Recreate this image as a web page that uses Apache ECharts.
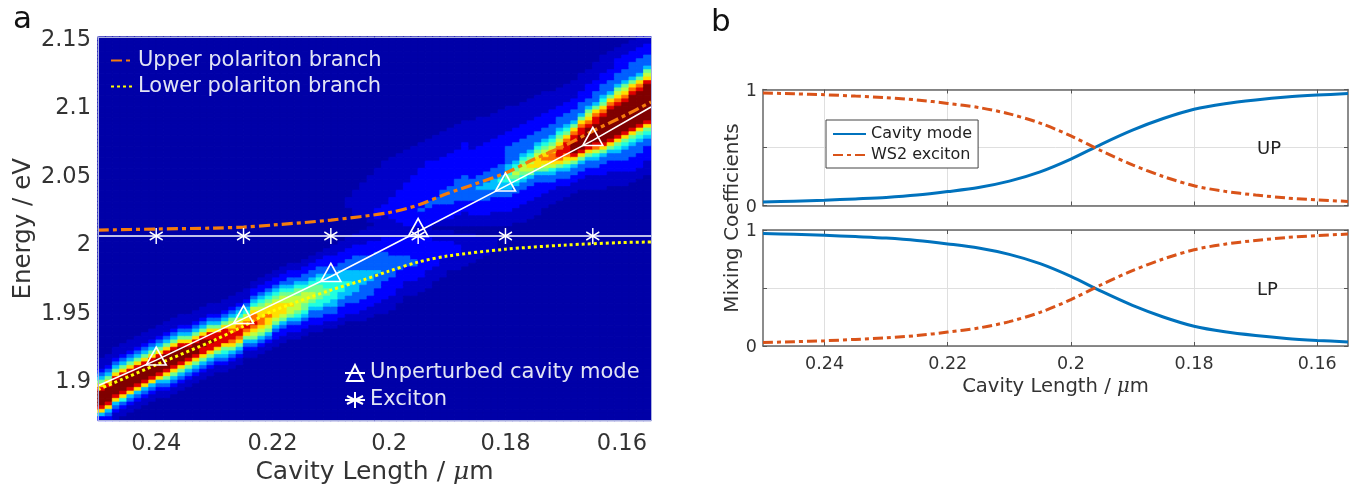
<!DOCTYPE html>
<html>
<head>
<meta charset="utf-8">
<style>html,body{margin:0;padding:0;background:#fff}#c{width:1356px;height:489px}</style>
<script src="https://cdn.jsdelivr.net/npm/echarts@6/dist/echarts.min.js"></script>
</head>
<body>
<div id="c"></div>
<script>
// ---------- panel a: line data ----------
const upperLength = [0.25,0.24,0.23,0.225,0.22,0.21,0.20,0.195,0.19,0.185,0.18,0.175,0.17,0.165,0.16,0.155];
const upperEnergy = [2.00904,2.00978,2.01051,2.01124,2.0127,2.01635,2.02182,2.0273,2.0357,2.04301,2.05067,2.0609,2.07039,2.08137,2.0916,2.10252];
const lowerLength = [0.25,0.24,0.23,0.225,0.22,0.21,0.205,0.20,0.195,0.19,0.18,0.17,0.16,0.155];
const lowerEnergy = [1.8925,1.9107,1.92871,1.93893,1.94988,1.96522,1.97179,1.9791,1.98567,1.99005,1.99505,1.99803,1.99992,2.00031];
const cavityLength = [0.25,0.24,0.225,0.21,0.195,0.18,0.165,0.155];
const cavityEnergy = [1.89533,1.91409,1.94439,1.97518,2.00796,2.04114,2.07451,2.09885];
const excitonLength = [0.25,0.24,0.225,0.21,0.195,0.18,0.165,0.155];
const excitonEnergy = [2.00469,2.00469,2.00469,2.00469,2.00469,2.00469,2.00469,2.00469];
const energyTicks = [1.9,1.95,2,2.05,2.1,2.15];
const lengthTicks = [0.24,0.22,0.2,0.18,0.16];

// ---------- panel a: intensity, one text per column (levels 0..b, top to bottom) ----------
const lowerBandStart = [88,87,85,84,83,82,81,80,79,78,77,76,76,75,74,73,73,72,71,70,69,67,66,65,64,63,62,62,61,60,59,58,57,56,55,54,53,52,52,51,51,51,52,52,52,52,53,53,53,54,54,54,55,55,55];
const lowerBandCols = ["11123468abbbba8421","11123468abbbba84321","11123468abbbba843211","11123468abbbba853211","11123468abbbba843211","11123468abbbba843211","11123468abbbba843211","11123468abbbba843211","11123468abbbba843211","11123468abbbba8643211","11123468abbbba8643211","11123468abbbba8643211","11123468abbba8643211","11123468abbba8643211","11123468abbaa8643211","11123468aabaa8643211","11123468aaaa8643211","11123468aaaa86543211","1112346789aa98643211","1112345789aa98643211","1112345789a98643211","11223457899a987643211","112234567889987643211","112234567889887643211","112234567888876432211","112234567788876432211","112233456778776432211","112234566777765432211","112233456777665432211","112233456677654332211","1122334556666554332211","1122233445566554332211","11122233445555544332211","11122233444555443322211","11122233344454443322211","111222333344444433322211","1111222333344443333222111","1111222233334443333222111","111122233333433332222111","1111222233333333222221111","111122222333333222221111","1111222223333222221111","1112222233322221111","1112222223322221111","111222222222221111","11122222222211111","11122222221111","1112222211111","11122221111","1112221111","111111111","11111111","111111","11111","1111"];
const upperBandFirstCol = 34;
const upperBandStart = [44,42,40,38,36,34,33,32,31,30,29,28,27,26,25,24,23,23,22,22,21,20,19,19,18,17,16,15,15,14,13,12,10,9,7,5,4,3,2,1,0,0];
const upperBandCols = ["111","1111111","111111111","1111111111111","1111111111122211","111111111111222111","1111111111122222211","11111111112222222221","111111111222222222222","1111111122222222222222","11111112222222222232222","111111222222222223322222","1111111222222222233222221","11111112222222223333222211","111111122222222233333222211","1111111222222223333332222111","11111122222222233333332221111","11111111222222223333332222111","111111112222222233343332222111","111111122222222333443332222111","1111111222222223334443322221111","11111112222222233345443322221111","111111122223333344565443322221111","11111122223333345676543322221111","111111222233334567765433222211111","111111222233334567876433222211111","111111222233345678886433222211111","11111122223334567898764332221111","1111122223334567899875433221111","11111222333456789aa986433221111","1111122233345689aaa987543322111","111112223334689aabbba8643322111","111112223334689aabbbba8643322111","111122223346789abbbbba86433221111","111112223334689aabbbbba975433221111","1111122233345689abbbbbbba864332221111","111112223334689abbbbbbbba864332221111","111222233346789abbbbbbbba8654332221111","111222233346789abbbbbbbba86543332221111","11122233334689abbbbbbbbba86543332222111","11122233334689abbbbbbbbba86543332222111","112223334678abbbbbbbbbba86543322221111"];
const jetColors = ['#0000a8','#0000c8','#0000ff','#0060ff','#00c0ff','#20ffe0','#70ff90','#c0ff40','#ffe000','#ff7000','#e00000','#800000'];

// ---------- panel b ----------
const mixLength = [0.25,0.245,0.24,0.235,0.23,0.225,0.22,0.215,0.21,0.205,0.2,0.195,0.19,0.185,0.18,0.175,0.17,0.165,0.16,0.155];
const upCavity = [0.03,0.037,0.045,0.057,0.07,0.09,0.12,0.155,0.21,0.29,0.40,0.53,0.65,0.75,0.83,0.878,0.91,0.935,0.952,0.965];
const upExciton = [0.97,0.963,0.955,0.943,0.93,0.91,0.88,0.845,0.79,0.71,0.60,0.47,0.35,0.25,0.17,0.122,0.09,0.065,0.048,0.035];
const lpCavity = [0.97,0.963,0.955,0.943,0.93,0.91,0.88,0.845,0.79,0.71,0.60,0.47,0.35,0.25,0.17,0.122,0.09,0.065,0.048,0.035];
const lpExciton = [0.03,0.037,0.045,0.057,0.07,0.09,0.12,0.155,0.21,0.29,0.40,0.53,0.65,0.75,0.83,0.878,0.91,0.935,0.952,0.965];

const colCount = 76, rowCount = 105;
const heatXCats = Array.from({length: colCount}, (_, i) => 'c' + i);
const heatYCats = Array.from({length: rowCount}, (_, i) => 'r' + i);
const grid = [];
for (let c = 0; c < colCount; c++) { grid.push(new Array(rowCount).fill(0)); }
function addBand(starts, cols, first) {
  cols.forEach((s, k) => {
    for (let j = 0; j < s.length; j++) {
      const r = starts[k] + j;
      if (r < rowCount) grid[k + first][r] = Math.max(grid[k + first][r], parseInt(s[j], 12));
    }
  });
}
addBand(lowerBandStart, lowerBandCols, 0);
addBand(upperBandStart, upperBandCols, upperBandFirstCol);
const heatData = [];
for (let c = 0; c < colCount; c++) for (let r = 0; r < rowCount; r++) {
  const v = grid[c][r];
  heatData.push({value: [c, r, v], itemStyle: {borderColor: jetColors[v], borderWidth: 0.7}});
}

const zip = (a, b) => a.map((v, i) => [v, b[i]]);
const endsNoSymbol = (a, b) => a.map((v, i) => (i === 0 || i === a.length - 1) ? {value: [v, b[i]], symbol: 'none'} : {value: [v, b[i]]});

const FONT = 'DejaVu Sans';
const TXT = '#333';
const star = 'path://M0 -10 L0 10 M-8.66 -5 L8.66 5 M-8.66 5 L8.66 -5';
const GA = {left: 98, top: 37, width: 553, height: 383.5, outerBoundsMode: 'none'};
const GB1 = {left: 763, top: 89.5, width: 585, height: 116, outerBoundsMode: 'none'};
const GB2 = {left: 763, top: 230, width: 585, height: 116, outerBoundsMode: 'none'};
const mu = (size) => ({i: {fontFamily: 'DejaVu Serif', fontStyle: 'italic', fontSize: size, color: TXT}});

const frame = {lineStyle: {color: '#666', width: 1.5}};
const bX = (gridIndex, bottom) => ({
  type: 'value', gridIndex, inverse: true, min: 0.155, max: 0.25, position: bottom ? 'bottom' : 'top',
  axisLine: {show: true, onZero: false, ...frame},
  axisTick: {show: true, inside: true, length: 4, customValues: lengthTicks, lineStyle: {color: '#555', width: 1}},
  axisLabel: bottom && gridIndex === 2 ? {show: true, customValues: lengthTicks, fontFamily: FONT, fontSize: 17.5, color: TXT, margin: 9} : {show: false},
  splitLine: bottom ? {show: true, lineStyle: {color: '#dfdfdf', width: 1}} : {show: false},
  ...(bottom && gridIndex === 2 ? {name: 'Cavity Length / {i|μ}m', nameLocation: 'middle', nameGap: 31,
    nameTextStyle: {fontFamily: FONT, fontSize: 19.6, color: TXT, rich: mu(19.6)}} : {})
});
const bY = (gridIndex, left) => ({
  type: 'value', gridIndex, min: 0, max: 1, interval: 0.5, position: left ? 'left' : 'right',
  axisLine: {show: true, onZero: false, ...frame},
  axisTick: {show: true, inside: true, length: 4, lineStyle: {color: '#555', width: 1}},
  axisLabel: left ? {show: true, customValues: [0, 1], margin: 6, formatter: '{a|{value}}',
    rich: {a: {fontFamily: FONT, fontSize: 17.5, color: TXT, padding: [3, 0, 0, 0]}}} : {show: false},
  splitLine: left ? {show: true, lineStyle: {color: '#dfdfdf', width: 1}} : {show: false}
});
const mixLine = (name, xi, yi, ys, dashed) => ({
  name, type: 'line', xAxisIndex: xi, yAxisIndex: yi, data: zip(mixLength, ys), showSymbol: false, symbol: 'none', smooth: 0.3, z: 4,
  lineStyle: dashed ? {color: '#D95319', width: 3, type: [10, 4, 4, 4]} : {color: '#0072BD', width: 3},
  itemStyle: {color: dashed ? '#D95319' : '#0072BD'}
});

const option = {
  animation: false,
  backgroundColor: '#fff',
  textStyle: {fontFamily: FONT},
  grid: [
    {...GA},
    {...GB1},
    {...GB2}
  ],
  xAxis: [
    {type: 'value', gridIndex: 0, inverse: true, min: 0.155, max: 0.25, position: 'bottom', z: 5,
     axisLine: {show: true, onZero: false, lineStyle: {color: '#aab0e0', width: 1}},
     axisTick: {show: false}, splitLine: {show: false},
     axisLabel: {customValues: lengthTicks, fontFamily: FONT, fontSize: 22.5, color: TXT, margin: 12},
     name: 'Cavity Length / {i|μ}m', nameLocation: 'middle', nameGap: 39,
     nameTextStyle: {fontFamily: FONT, fontSize: 25, color: TXT, rich: mu(25)}},
    {type: 'category', gridIndex: 0, data: heatXCats, position: 'top', z: 5,
     axisLine: {show: true, lineStyle: {color: '#aab0e0', width: 1}},
     axisTick: {show: false}, axisLabel: {show: false}, splitLine: {show: false}},
    bX(1, true), bX(1, false), bX(2, true), bX(2, false)
  ],
  yAxis: [
    {type: 'value', gridIndex: 0, min: 1.87, max: 2.15, position: 'left', z: 5,
     axisLine: {show: true, onZero: false, lineStyle: {color: '#aab0e0', width: 1}},
     axisTick: {show: false}, splitLine: {show: false},
     axisLabel: {customValues: energyTicks, margin: 7, formatter: '{a|{value}}',
       rich: {a: {fontFamily: FONT, fontSize: 22.5, color: TXT, padding: [6, 0, 0, 0]}}},
     name: 'Energy / eV', nameLocation: 'middle', nameGap: 62,
     nameTextStyle: {fontFamily: FONT, fontSize: 24.5, color: TXT}},
    {type: 'category', gridIndex: 0, data: heatYCats, inverse: true, position: 'right', z: 5,
     axisLine: {show: true, lineStyle: {color: '#aab0e0', width: 1}},
     axisTick: {show: false}, axisLabel: {show: false}, splitLine: {show: false}},
    bY(1, true), bY(1, false), bY(2, true), bY(2, false)
  ],
  visualMap: {show: false, type: 'continuous', seriesIndex: 0, dimension: 2, min: 0, max: 11, inRange: {color: jetColors}},
  legend: [
    {left: 110, top: 50, orient: 'vertical', padding: 0, itemWidth: 22, itemHeight: 14, itemGap: 5,
     itemStyle: {opacity: 0},
     data: ['Upper polariton branch', 'Lower polariton branch'],
     textStyle: {fontFamily: FONT, fontSize: 21, color: '#e2e4f4'}},
    {left: 344, top: 362.5, orient: 'vertical', padding: 0, itemWidth: 20, itemHeight: 20, itemGap: 6,
     data: ['Unperturbed cavity mode', 'Exciton'],
     textStyle: {fontFamily: FONT, fontSize: 21, color: '#e2e4f4'}},
    {left: 826, top: 120, orient: 'vertical', itemWidth: 33, itemHeight: 12, itemGap: 5, padding: [6, 6, 5, 6],
     itemStyle: {opacity: 0},
     backgroundColor: '#fff', borderColor: '#444', borderWidth: 1, borderRadius: 0, z: 10,
     data: ['Cavity mode', 'WS2 exciton'],
     textStyle: {fontFamily: FONT, fontSize: 16, color: '#222'}}
  ],
  series: [
    {type: 'heatmap', xAxisIndex: 1, yAxisIndex: 1, data: heatData, progressive: 0, silent: true, emphasis: {disabled: true}, z: 1},
    {name: 'Upper polariton branch', type: 'line', xAxisIndex: 0, yAxisIndex: 0, data: zip(upperLength, upperEnergy),
     showSymbol: false, symbol: 'none', smooth: 0.3, z: 3, lineStyle: {color: '#f57c0c', width: 3.2, type: [11, 4, 4, 4]}, itemStyle: {color: '#f57c0c'}},
    {name: 'Lower polariton branch', type: 'line', xAxisIndex: 0, yAxisIndex: 0, data: zip(lowerLength, lowerEnergy),
     showSymbol: false, symbol: 'none', smooth: 0.3, z: 3, lineStyle: {color: '#ffff00', width: 3, type: [3, 3]}, itemStyle: {color: '#ffff00'}},
    {name: 'Unperturbed cavity mode', type: 'line', xAxisIndex: 0, yAxisIndex: 0, data: endsNoSymbol(cavityLength, cavityEnergy),
     symbol: 'triangle', symbolSize: [20, 18], symbolOffset: [0, -4], showAllSymbol: true, z: 4,
     lineStyle: {color: '#fff', width: 1.6}, itemStyle: {color: 'none', borderColor: '#fff', borderWidth: 1.6}},
    {name: 'Exciton', type: 'line', xAxisIndex: 0, yAxisIndex: 0, data: endsNoSymbol(excitonLength, excitonEnergy),
     symbol: star, symbolSize: [13, 16], showAllSymbol: true, z: 4,
     lineStyle: {color: '#fff', width: 1.6}, itemStyle: {color: 'none', borderColor: '#fff', borderWidth: 1.6}},
    mixLine('Cavity mode', 2, 2, upCavity, false),
    mixLine('WS2 exciton', 2, 2, upExciton, true),
    mixLine('Cavity mode', 4, 4, lpCavity, false),
    mixLine('WS2 exciton', 4, 4, lpExciton, true)
  ],
  graphic: [
    {type: 'text', left: 13, top: 4, style: {text: 'a', fontFamily: FONT, fontSize: 31, fill: '#111'}},
    {type: 'text', left: 711, top: 7, style: {text: 'b', fontFamily: FONT, fontSize: 31, fill: '#111'}},
    {type: 'text', x: 733, y: 218, rotation: Math.PI / 2, style: {text: 'Mixing Coefficients', fontFamily: FONT, fontSize: 20, fill: TXT, align: 'center', verticalAlign: 'middle'}},
    {type: 'text', left: 1257, top: 140, z: 10, style: {text: 'UP', fontFamily: FONT, fontSize: 18, fill: '#222'}},
    {type: 'text', left: 1257, top: 281, z: 10, style: {text: 'LP', fontFamily: FONT, fontSize: 18, fill: '#222'}}
  ]
};
const chart = echarts.init(document.getElementById('c'), null, {renderer: 'canvas'});
chart.setOption(option);
</script>
</body>
</html>
